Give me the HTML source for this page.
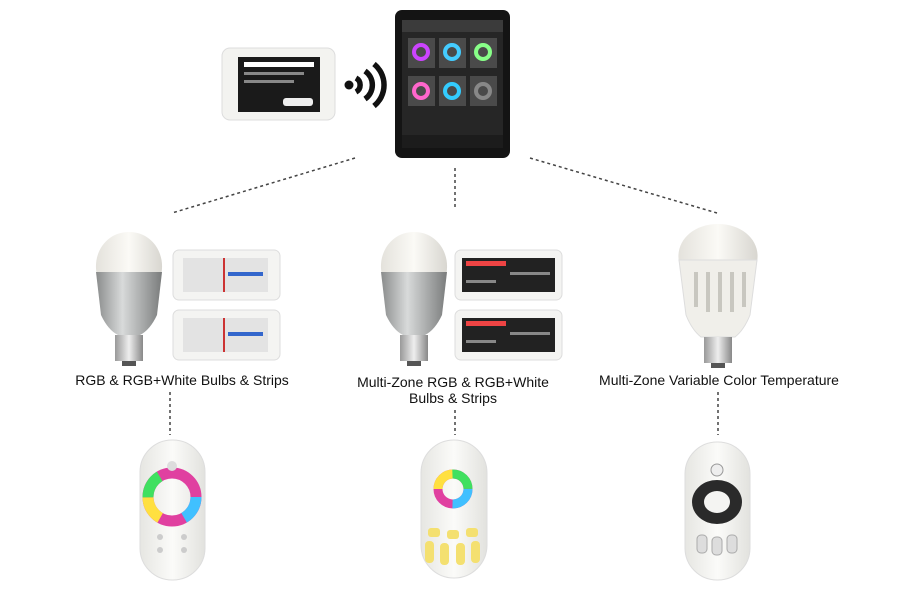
<!DOCTYPE html>
<html><head><style>
body{margin:0;background:#fff;width:900px;height:600px;overflow:hidden;font-family:"Liberation Sans",sans-serif}
svg{display:block}
text{font-family:"Liberation Sans",sans-serif;font-size:14px;fill:#111}
</style></head><body>
<svg width="900" height="600" viewBox="0 0 900 600">
<defs>
<linearGradient id="glass" x1="0" x2="1"><stop offset="0" stop-color="#e4e2dc"/><stop offset=".5" stop-color="#fbfaf6"/><stop offset="1" stop-color="#d8d6d0"/></linearGradient>
<linearGradient id="alu" x1="0" x2="1"><stop offset="0" stop-color="#8a8c8c"/><stop offset=".4" stop-color="#d8dada"/><stop offset="1" stop-color="#7a7c7c"/></linearGradient>
<linearGradient id="base" x1="0" x2="1"><stop offset="0" stop-color="#999"/><stop offset=".5" stop-color="#eee"/><stop offset="1" stop-color="#888"/></linearGradient>
<linearGradient id="rem" x1="0" x2="1"><stop offset="0" stop-color="#e6e6e2"/><stop offset=".5" stop-color="#fbfbf9"/><stop offset="1" stop-color="#e2e2de"/></linearGradient>
</defs>
<g stroke="#444" stroke-width="1.5" stroke-dasharray="3,3" fill="none">
<line x1="355" y1="158" x2="172" y2="213"/><line x1="455" y1="168" x2="455" y2="210"/><line x1="530" y1="158" x2="717" y2="213"/>
<line x1="170" y1="392" x2="170" y2="435"/><line x1="455" y1="410" x2="455" y2="435"/><line x1="718" y1="392" x2="718" y2="435"/>
</g>
<rect x="222" y="48" width="113" height="72" rx="8" fill="#f3f3f0" stroke="#ddd"/>
<rect x="238" y="57" width="82" height="55" fill="#1a1a1a"/>
<rect x="244" y="62" width="70" height="5" fill="#fff"/>
<rect x="244" y="72" width="60" height="3" fill="#888"/><rect x="244" y="80" width="50" height="3" fill="#888"/>
<rect x="283" y="98" width="30" height="8" rx="3" fill="#eee"/>
<g fill="none" stroke="#111" stroke-width="5.5" stroke-linecap="butt">
<path d="M356 92 a8 8 0 0 0 0 -14"/><path d="M365 99 a17 17 0 0 0 0 -28"/><path d="M374 106 a27 27 0 0 0 0 -42"/>
</g><circle cx="349" cy="85" r="4.5" fill="#111"/>
<rect x="395" y="10" width="115" height="148" rx="7" fill="#141414"/>
<rect x="402" y="20" width="101" height="128" fill="#262626"/>
<rect x="402" y="20" width="101" height="12" fill="#3b3b3b"/>
<g fill="#4a4a4a"><rect x="408" y="38" width="27" height="30"/><rect x="439" y="38" width="27" height="30"/><rect x="470" y="38" width="27" height="30"/>
<rect x="408" y="76" width="27" height="30"/><rect x="439" y="76" width="27" height="30"/><rect x="470" y="76" width="27" height="30"/></g>
<g fill="none" stroke-width="4"><circle cx="421" cy="52" r="7" stroke="#c4f"/><circle cx="452" cy="52" r="7" stroke="#4cf"/><circle cx="483" cy="52" r="7" stroke="#8f8"/><circle cx="421" cy="91" r="7" stroke="#f6c"/><circle cx="452" cy="91" r="7" stroke="#3cf"/><circle cx="483" cy="91" r="7" stroke="#888"/></g>
<rect x="402" y="135" width="101" height="13" fill="#1c1c1c"/>
<g id="b"><path d="M97 275 C92 255 105 232 129 232 C153 232 166 255 161 275 Z" fill="url(#glass)"/>
<path d="M96 272 L162 272 L157 315 Q150 330 140 335 L118 335 Q108 330 101 315 Z" fill="url(#alu)"/>
<rect x="115" y="335" width="28" height="26" fill="url(#base)"/><rect x="122" y="361" width="14" height="5" fill="#555"/></g>
<use href="#b" x="285"/>
<g id="c1"><rect x="173" y="250" width="107" height="50" rx="6" fill="#f4f4f2" stroke="#ddd"/><rect x="183" y="258" width="85" height="34" fill="#e3e3e3"/><rect x="223" y="258" width="2" height="34" fill="#c33"/><rect x="228" y="272" width="35" height="4" fill="#36c"/></g>
<use href="#c1" y="60"/>
<g id="c2"><rect x="455" y="250" width="107" height="50" rx="6" fill="#f4f4f2" stroke="#ddd"/><rect x="462" y="258" width="93" height="34" fill="#222"/><rect x="466" y="261" width="40" height="5" fill="#e44"/><rect x="510" y="272" width="40" height="3" fill="#888"/><rect x="466" y="280" width="30" height="3" fill="#888"/></g>
<use href="#c2" y="60"/>
<path d="M679 262 C675 242 692 224 718 224 C744 224 761 242 757 262 Z" fill="url(#glass)"/>
<path d="M679 260 L757 260 L750 315 Q744 330 735 337 L701 337 Q692 330 686 315 Z" fill="#f0efea" stroke="#ddd"/>
<g fill="#c8c7c0"><rect x="694" y="272" width="4" height="35"/><rect x="706" y="272" width="4" height="40"/><rect x="718" y="272" width="4" height="40"/><rect x="730" y="272" width="4" height="40"/><rect x="742" y="272" width="4" height="35"/></g>
<rect x="704" y="337" width="28" height="26" fill="url(#base)"/><rect x="711" y="363" width="14" height="5" fill="#555"/>
<text x="182" y="385" text-anchor="middle">RGB &amp; RGB+White Bulbs &amp; Strips</text>
<text x="453" y="387" text-anchor="middle">Multi-Zone RGB &amp; RGB+White</text>
<text x="453" y="403" text-anchor="middle">Bulbs &amp; Strips</text>
<text x="719" y="385" text-anchor="middle">Multi-Zone Variable Color Temperature</text>
<g><rect x="140" y="440" width="65" height="140" rx="32" fill="url(#rem)" stroke="#ddd"/>
<circle cx="172" cy="497" r="24" fill="none" stroke="#e040a0" stroke-width="11"/><circle cx="172" cy="497" r="24" fill="none" stroke="#40c0ff" stroke-width="11" stroke-dasharray="25 126"/><circle cx="172" cy="497" r="24" fill="none" stroke="#ffe040" stroke-width="11" stroke-dasharray="0 50 25 100"/><circle cx="172" cy="497" r="24" fill="none" stroke="#40e060" stroke-width="11" stroke-dasharray="0 75 25 60"/>
<circle cx="172" cy="466" r="5" fill="#ddd"/>
<g fill="#ccc"><circle cx="160" cy="537" r="3"/><circle cx="184" cy="537" r="3"/><circle cx="160" cy="550" r="3"/><circle cx="184" cy="550" r="3"/></g></g>
<g><rect x="421" y="440" width="66" height="138" rx="33" fill="url(#rem)" stroke="#ddd"/>
<circle cx="453" cy="489" r="15" fill="none" stroke="#e040a0" stroke-width="9"/><circle cx="453" cy="489" r="15" fill="none" stroke="#40c0ff" stroke-width="9" stroke-dasharray="24 100"/><circle cx="453" cy="489" r="15" fill="none" stroke="#ffe040" stroke-width="9" stroke-dasharray="0 47 24 50"/><circle cx="453" cy="489" r="15" fill="none" stroke="#40e060" stroke-width="9" stroke-dasharray="0 70 24 20"/>
<g fill="#f4e070"><rect x="428" y="528" width="12" height="9" rx="3"/><rect x="447" y="530" width="12" height="9" rx="3"/><rect x="466" y="528" width="12" height="9" rx="3"/>
<rect x="425" y="541" width="9" height="22" rx="4"/><rect x="440" y="543" width="9" height="22" rx="4"/><rect x="456" y="543" width="9" height="22" rx="4"/><rect x="471" y="541" width="9" height="22" rx="4"/></g></g>
<g><rect x="685" y="442" width="65" height="138" rx="32" fill="url(#rem)" stroke="#ddd"/>
<ellipse cx="717" cy="502" rx="25" ry="22" fill="#2a2a2a"/><ellipse cx="717" cy="502" rx="13" ry="11" fill="#f4f4f2"/>
<circle cx="717" cy="470" r="6" fill="#eee" stroke="#999"/>
<g fill="#ddd" stroke="#aaa"><rect x="697" y="535" width="10" height="18" rx="4"/><rect x="712" y="537" width="10" height="18" rx="4"/><rect x="727" y="535" width="10" height="18" rx="4"/></g></g>
</svg>
</body></html>
